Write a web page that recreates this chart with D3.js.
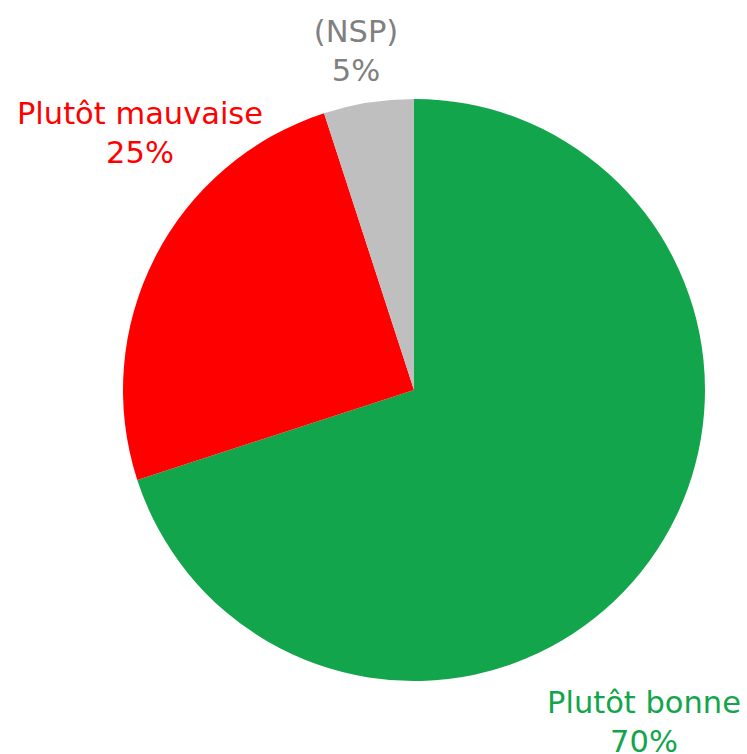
<!DOCTYPE html>
<html>
<head>
<meta charset="utf-8">
<script src="https://cdn.jsdelivr.net/npm/d3@7"></script>
<style>
  body { margin: 0; background: #fff; }
  text { font-family: "DejaVu Sans", sans-serif; }
</style>
</head>
<body>
<div id="chart"></div>
<script>
// data
const categories = ["Plutôt bonne", "Plutôt mauvaise", "(NSP)"];
const values = [70, 25, 5];
const colors = ["#13A54B", "#FF0000", "#BFBFBF"];
const labelColors = ["#13A54B", "#FF0000", "#808080"];

const width = 747, height = 754;
const cx = 414, cy = 390, radius = 291;

// label block centres (x, first baseline)
const labelPos = [[644, 713], [140, 124], [356, 42]];

const svg = d3.select("#chart")
    .append("svg")
    .attr("width", width)
    .attr("height", height);

const pie = d3.pie().sort(null).value(d => d);
const arc = d3.arc().innerRadius(0).outerRadius(radius);

const g = svg.append("g")
    .attr("transform", `translate(${cx}, ${cy})`);

g.selectAll("path")
    .data(pie(values))
    .enter()
    .append("path")
    .attr("d", arc)
    .attr("fill", (d, i) => colors[i]);

const labels = svg.append("g")
    .selectAll("text")
    .data(categories)
    .enter()
    .append("text")
    .attr("text-anchor", "middle")
    .attr("font-size", 30.5)
    .attr("fill", (d, i) => labelColors[i]);

labels.append("tspan")
    .attr("x", (d, i) => labelPos[i][0])
    .attr("y", (d, i) => labelPos[i][1])
    .text(d => d);

labels.append("tspan")
    .attr("x", (d, i) => labelPos[i][0])
    .attr("dy", 39)
    .text((d, i) => values[i] + "%");
</script>
</body>
</html>
